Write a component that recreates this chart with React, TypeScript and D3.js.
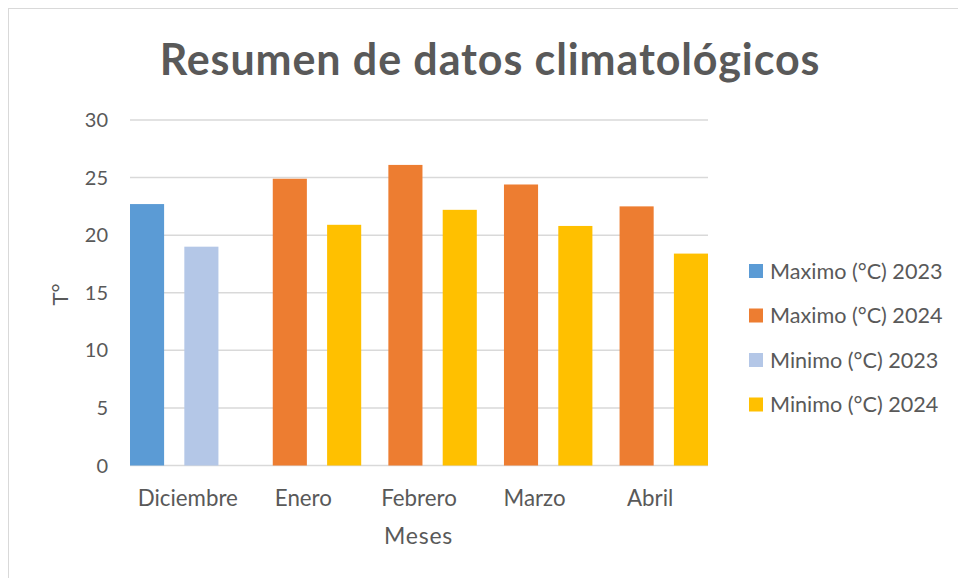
import React from "react";
import { scaleBand, scaleLinear, scalePoint } from "d3";

// Datos
const meses = ["Diciembre", "Enero", "Febrero", "Marzo", "Abril"];
const series = ["Maximo (°C) 2023", "Maximo (°C) 2024", "Minimo (°C) 2023", "Minimo (°C) 2024"];
const maximo2023: (number | null)[] = [22.7, null, null, null, null];
const maximo2024: (number | null)[] = [null, 24.9, 26.1, 24.4, 22.5];
const minimo2023: (number | null)[] = [19.0, null, null, null, null];
const minimo2024: (number | null)[] = [null, 20.9, 22.2, 20.8, 18.4];
const yTicks = [0, 5, 10, 15, 20, 25, 30];

const valores = [maximo2023, maximo2024, minimo2023, minimo2024];
const colores = ["#5B9BD5", "#ED7D31", "#B4C7E7", "#FFC000"];

const W = 958;
const H = 578;
const texto = "#595959";
const fuente = "Lato, 'Open Sans', sans-serif";

const App: React.FC = () => {
  // Escalas
  const x = scaleBand<string>().domain(meses).range([130, 708]).padding(0);
  const barW = x.bandwidth() * 0.295;
  const xs = scalePoint<string>()
    .domain(series)
    .range([0, x.bandwidth() - barW]);
  const y = scaleLinear().domain([0, 30]).range([465.5, 120]);

  return (
    <svg
      width={W}
      height={H}
      style={{ position: "absolute", left: 0, top: 0, background: "#fff" }}
      fontFamily={fuente}
    >
      {/* Borde del área del gráfico */}
      <rect x={8.5} y={8.5} width={W + 20} height={H + 20} fill="#fff" stroke="#d9d9d9" />

      {/* Título */}
      <text
        x={490}
        y={75}
        textAnchor="middle"
        fontSize={43}
        fontWeight="bold"
        letterSpacing={0.9}
        fill={texto}
      >
        Resumen de datos climatológicos
      </text>

      {/* Cuadrícula */}
      {yTicks.map((t) => (
        <line
          key={t}
          x1={130}
          x2={708}
          y1={y(t)}
          y2={y(t)}
          stroke="#d9d9d9"
          strokeWidth={1.5}
        />
      ))}

      {/* Barras */}
      {valores.map((serie, si) =>
        serie.map((v, i) =>
          v == null ? null : (
            <rect
              key={`${si}-${i}`}
              x={x(meses[i])! + xs(series[si])!}
              y={y(v)}
              width={barW}
              height={y(0) - y(v)}
              fill={colores[si]}
            />
          )
        )
      )}

      {/* Eje Y */}
      {yTicks.map((t) => (
        <text
          key={t}
          x={108}
          y={y(t)}
          dy="0.35em"
          textAnchor="end"
          fontSize={20}
          fill={texto}
        >
          {t}
        </text>
      ))}
      <text
        transform="translate(68,294.5) rotate(-90)"
        textAnchor="middle"
        fontSize={22}
        fill={texto}
      >
        T°
      </text>

      {/* Eje X */}
      {meses.map((m) => (
        <text
          key={m}
          x={x(m)! + x.bandwidth() / 2}
          y={505.5}
          textAnchor="middle"
          fontSize={22.3}
          fill={texto}
        >
          {m}
        </text>
      ))}
      <text x={418.5} y={544} textAnchor="middle" fontSize={23} letterSpacing={0.8} fill={texto}>
        Meses
      </text>

      {/* Leyenda */}
      {series.map((s, i) => (
        <g key={s} transform={`translate(749,${264 + i * 44.5})`}>
          <rect width={14} height={14} fill={colores[i]} />
          <text x={21} y={7} dy="0.36em" fontSize={21.6} fill={texto}>
            {s}
          </text>
        </g>
      ))}
    </svg>
  );
};

export default App;
